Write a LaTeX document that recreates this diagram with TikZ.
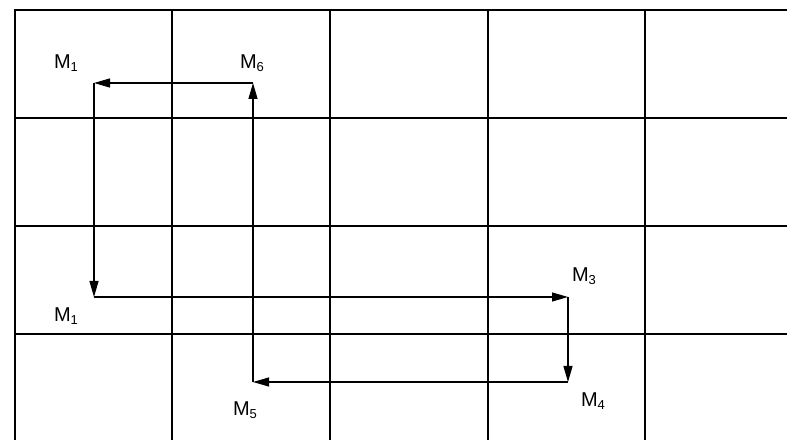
\documentclass[tikz,border=0pt]{standalone}
\usepackage{fontspec}
\setmainfont{Liberation Sans}
\usetikzlibrary{arrows.meta}
\newcommand{\Msub}[1]{M\raisebox{-0.3ex}{\fontsize{13bp}{13bp}\selectfont #1}}
\begin{document}
\begin{tikzpicture}[x=1bp,y=-1bp,
  gridline/.style={line width=1.4bp,black},
  flow/.style={line width=1.2bp,-{Triangle[length=16bp,width=9bp]}},
  lbl/.style={font=\fontsize{20bp}{22bp}\selectfont,inner sep=0pt}]
\useasboundingbox (0,0) rectangle (787,440);
% grid
\draw[gridline] (787,10) -- (15,10) -- (15,440);
\foreach \x in {172,330,488,645} \draw[gridline] (\x,10) -- (\x,440);
\foreach \y in {118,226,334} \draw[gridline] (15,\y) -- (787,\y);
% path points
\coordinate (p1) at (94,83);
\coordinate (p6) at (253,83);
\coordinate (p1b) at (94,297);
\coordinate (p3) at (568,297);
\coordinate (p4) at (568,382);
\coordinate (p5) at (253,382);
% connectors
\draw[flow] (p6) -- (p1);
\draw[flow] (p1) -- (p1b);
\draw[flow] (p1b) -- (p3);
\draw[flow] (p3) -- (p4);
\draw[flow] (p4) -- (p5);
\draw[flow] (p5) -- (p6);
% labels
\node[lbl] (l1) at (66,63) {\Msub{1}};
\node[lbl] (l6) at (252,63) {\Msub{6}};
\node[lbl] (l1b) at (66,316) {\Msub{1}};
\node[lbl] (l3) at (584,276) {\Msub{3}};
\node[lbl] (l4) at (593,401) {\Msub{4}};
\node[lbl] (l5) at (245,410) {\Msub{5}};
\end{tikzpicture}
\end{document}
